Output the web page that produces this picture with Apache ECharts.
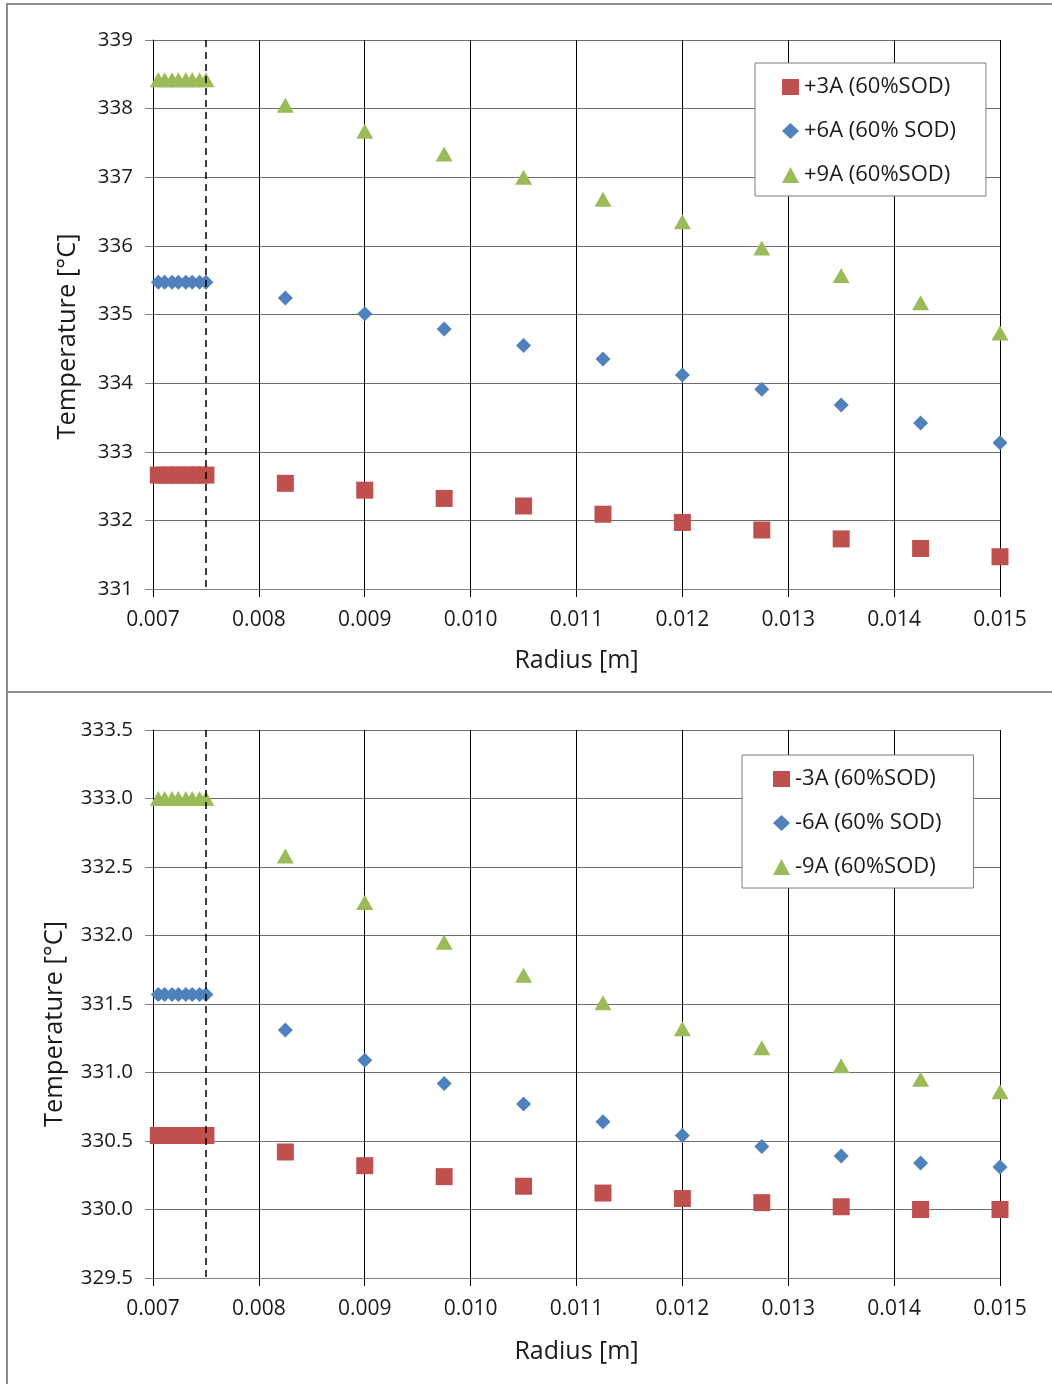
<!DOCTYPE html>
<html>
<head>
<meta charset="utf-8">
<script src="https://cdn.jsdelivr.net/npm/echarts@6/dist/echarts.min.js"></script>
<style>
  html, body { margin: 0; padding: 0; background: #ffffff; }
  #chart { width: 1052px; height: 1384px; }
</style>
</head>
<body>
<div id="chart"></div>
<script>
// Radial positions [m]: dense cells inside the inner radius, then the outer nodes
const radius = [0.00705, 0.00711, 0.00718, 0.00724, 0.00731, 0.00737, 0.00744, 0.0075,
                0.00825, 0.009, 0.00975, 0.0105, 0.01125, 0.012, 0.01275, 0.0135, 0.01425, 0.015];
const innerRadius = 0.0075;

// Heating currents (upper panel), temperature [°C]
const namesPos = ['+3A (60%SOD)', '+6A (60% SOD)', '+9A (60%SOD)'];
const tempPos3 = [332.66, 332.66, 332.66, 332.66, 332.66, 332.66, 332.66, 332.66,
                  332.54, 332.44, 332.32, 332.21, 332.09, 331.97, 331.86, 331.73, 331.59, 331.47];
const tempPos6 = [335.47, 335.47, 335.47, 335.47, 335.47, 335.47, 335.47, 335.47,
                  335.24, 335.01, 334.79, 334.55, 334.35, 334.12, 333.91, 333.68, 333.42, 333.13];
const tempPos9 = [338.42, 338.42, 338.42, 338.42, 338.42, 338.42, 338.42, 338.42,
                  338.05, 337.67, 337.34, 337.00, 336.68, 336.35, 335.97, 335.57, 335.17, 334.73];

// Reversed currents (lower panel), temperature [°C]
const namesNeg = ['-3A (60%SOD)', '-6A (60% SOD)', '-9A (60%SOD)'];
const tempNeg3 = [330.54, 330.54, 330.54, 330.54, 330.54, 330.54, 330.54, 330.54,
                  330.42, 330.32, 330.24, 330.17, 330.12, 330.08, 330.05, 330.02, 330.00, 330.00];
const tempNeg6 = [331.57, 331.57, 331.57, 331.57, 331.57, 331.57, 331.57, 331.57,
                  331.31, 331.09, 330.92, 330.77, 330.64, 330.54, 330.46, 330.39, 330.34, 330.31];
const tempNeg9 = [333.00, 333.00, 333.00, 333.00, 333.00, 333.00, 333.00, 333.00,
                  332.58, 332.24, 331.95, 331.71, 331.51, 331.32, 331.18, 331.05, 330.95, 330.86];

// Axis ranges
const xRange = { min: 0.007, max: 0.015, step: 0.001 };
const yTop = { min: 331, max: 339, step: 1, digits: 0 };
const yBottom = { min: 329.5, max: 333.5, step: 0.5, digits: 1 };

const FONT = 'Open Sans';
const TXT = '#1a1a1a';
const RED = '#C0504D', BLUE = '#4F81BD', GREEN = '#9BBB59';

function pairs(ys) { return radius.map((r, i) => [r, ys[i]]); }

function xAxisFor(gi, gap) {
  return {
    gridIndex: gi, type: 'value', min: xRange.min, max: xRange.max, interval: xRange.step,
    name: 'Radius [m]', nameLocation: 'middle', nameGap: gap,
    nameTextStyle: { fontSize: 25, color: TXT, fontFamily: FONT },
    axisLine: { show: true, onZero: false, lineStyle: { color: '#7f7f7f', width: 1 } },
    axisTick: { show: true, length: 8, lineStyle: { color: '#000' } },
    axisLabel: { fontSize: 21, margin: 21, color: TXT, fontFamily: FONT, formatter: v => v.toFixed(3) },
    splitLine: { show: true, lineStyle: { color: '#000', width: 1 } }
  };
}
function yAxisFor(gi, rng, gap, shift) {
  return {
    gridIndex: gi, type: 'value', min: rng.min, max: rng.max, interval: rng.step,
    name: 'Temperature [°C]', nameLocation: 'middle', nameGap: gap,
    nameTextStyle: { fontSize: 25.5, color: TXT, fontFamily: FONT, padding: [0, shift, 0, 0] },
    axisLine: { show: true, onZero: false, lineStyle: { color: '#000', width: 1 } },
    axisTick: { show: true, length: 8, lineStyle: { color: '#7f7f7f' } },
    axisLabel: { fontSize: 20.5, margin: 20, color: TXT, fontFamily: FONT, formatter: v => v.toFixed(rng.digits) },
    splitLine: { show: true, lineStyle: { color: '#6e6e6e', width: 1 } }
  };
}
function scatter(name, gi, ys, symbol, size, color, rng) {
  const s = {
    name, type: 'scatter', xAxisIndex: gi, yAxisIndex: gi, data: pairs(ys),
    symbol, symbolSize: size, itemStyle: { color, opacity: 1 }
  };
  if (rng) {
    s.markLine = {
      silent: true, symbol: ['none', 'none'], label: { show: false }, z: 10,
      lineStyle: { color: '#000', type: [7, 5], width: 1.5 },
      data: [[{ coord: [innerRadius, rng.max] }, { coord: [innerRadius, rng.min] }]]
    };
  }
  return s;
}
function legendFor(names, left, top, pad) {
  return {
    data: names, orient: 'vertical', left, top, padding: pad,
    itemWidth: 17, itemHeight: 16, itemGap: 22,
    backgroundColor: '#fff', borderColor: '#7f7f7f', borderWidth: 1, borderRadius: 0,
    textStyle: { fontSize: 22, color: TXT, fontFamily: FONT, lineHeight: 22 },
    selectedMode: false
  };
}

const chart = echarts.init(document.getElementById('chart'), null, { renderer: 'canvas' });
chart.setOption({
  animation: false,
  backgroundColor: '#ffffff',
  textStyle: { fontFamily: FONT },
  grid: [
    { left: 153, top: 40, width: 847, height: 549 },
    { left: 153, top: 730, width: 847, height: 548 }
  ],
  xAxis: [xAxisFor(0, 59), xAxisFor(1, 61)],
  yAxis: [yAxisFor(0, yTop, 72, 44), yAxisFor(1, yBottom, 85, 40)],
  legend: [
    legendFor(namesPos, 755, 63, [13, 30, 10, 27]),
    legendFor(namesNeg, 742, 755, [13, 32, 10, 31])
  ],
  series: [
    scatter(namesPos[0], 0, tempPos3, 'rect', 17, RED, yTop),
    scatter(namesPos[1], 0, tempPos6, 'diamond', 15, BLUE),
    scatter(namesPos[2], 0, tempPos9, 'triangle', [17, 15], GREEN),
    scatter(namesNeg[0], 1, tempNeg3, 'rect', 17, RED, yBottom),
    scatter(namesNeg[1], 1, tempNeg6, 'diamond', 15, BLUE),
    scatter(namesNeg[2], 1, tempNeg9, 'triangle', [17, 15], GREEN)
  ],
  graphic: [
    { type: 'rect', silent: true, z: -10, shape: { x: 7, y: 4, width: 1060, height: 688 },
      style: { fill: null, stroke: '#8c8c8c', lineWidth: 2 } },
    { type: 'rect', silent: true, z: -10, shape: { x: 7, y: 692, width: 1060, height: 710 },
      style: { fill: null, stroke: '#8c8c8c', lineWidth: 2 } }
  ]
});
</script>
</body>
</html>
